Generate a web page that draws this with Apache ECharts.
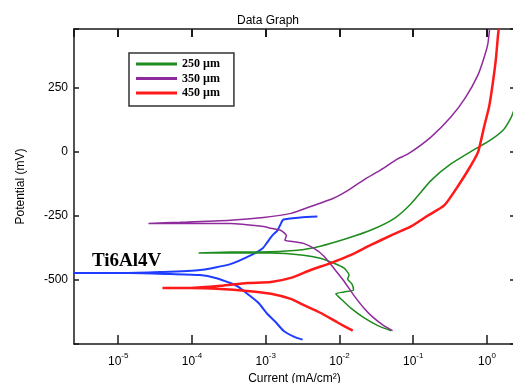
<!DOCTYPE html>
<html>
<head>
<meta charset="utf-8">
<script src="https://cdn.jsdelivr.net/npm/echarts@6/dist/echarts.min.js"></script>
<style>
  html, body { margin: 0; padding: 0; background: #fff; }
  #chart { width: 513px; height: 383px; }
</style>
</head>
<body>
<div id="chart"></div>
<script>
// log10 of current (mA/cm2) and potential (mV)
const tiLogI = [-2.50, -2.62, -2.76, -2.87, -2.98, -3.10, -3.25, -3.37, -3.48, -3.68, -3.89, -4.29, -4.84, -5.60, -5.90,
  -5.60, -4.97, -4.43, -3.89, -3.48, -3.17, -3.04, -2.98, -2.91, -2.84, -2.80, -2.76, -2.53, -2.30];
const tiMv = [-733, -721, -698, -663, -632, -589, -554, -527, -512, -492, -481, -477, -473, -473, -473,
  -473, -473, -469, -461, -438, -399, -376, -353, -326, -306, -283, -264, -256, -252];

const g250LogI = [-1.30, -1.48, -1.67, -1.85, -1.98, -2.05, -1.94, -1.81, -1.83, -1.89, -1.87, -1.94, -2.08, -2.26, -2.49, -2.93, -3.48, -3.91,
  -3.48, -3.07, -2.57, -2.26, -1.89, -1.58, -1.26, -1.03, -0.76, -0.49, -0.18, 0.05, 0.23, 0.33, 0.37, 0.46];
const g250Mv = [-698, -678, -647, -609, -574, -554, -547, -539, -516, -496, -481, -453, -434, -415, -403, -395, -395, -395,
  -391, -391, -384, -368, -337, -306, -260, -202, -112, -47, 8, 47, 89, 136, 167, 225];

const g350LogI = [-1.28, -1.40, -1.54, -1.67, -1.81, -1.94, -2.08, -2.21, -2.35, -2.49, -2.66, -2.74, -2.72, -2.80, -2.93, -3.03, -3.48, -4.16, -4.59,
  -4.16, -3.48, -3.03, -2.66, -2.39, -2.09, -1.89, -1.67, -1.44, -1.21, -1.07, -0.76, -0.49, -0.29, -0.12, -0.04, 0.01, 0.03, 0.04];
const g350Mv = [-698, -678, -647, -609, -558, -504, -453, -407, -376, -357, -349, -345, -326, -306, -298, -291, -279, -279, -279,
  -275, -267, -256, -240, -213, -182, -151, -109, -70, -27, -8, 58, 136, 213, 302, 368, 419, 465, 496];

const g450LogI = [-1.82, -2.02, -2.26, -2.49, -2.66, -2.93, -3.25, -3.61, -4.02, -4.40,
  -4.02, -3.61, -3.25, -2.93, -2.66, -2.39, -2.12, -1.85, -1.58, -1.30, -1.03, -0.80, -0.58, -0.39, -0.22, -0.12, -0.04, 0.03, 0.08, 0.12, 0.15, 0.16];
const g450Mv = [-698, -667, -628, -597, -574, -554, -543, -535, -531, -531,
  -531, -523, -512, -508, -492, -461, -434, -403, -364, -326, -291, -248, -209, -132, -54, 0, 97, 178, 271, 360, 457, 481];

const legendNames = ["250 \u00b5m", "350 \u00b5m", "450 \u00b5m"];
const yTicks = [-500, -250, 0, 250];

function toPoints(logI, mv) {
  return logI.map((l, i) => [Math.pow(10, l), mv[i]]);
}

function makeSeries(name, logI, mv, color, width) {
  return {
    name: name,
    type: "line",
    data: toPoints(logI, mv),
    showSymbol: false,
    symbol: "none",
    smooth: 0.2,
    lineStyle: { color: color, width: width },
    itemStyle: { color: color },
    clip: true,
  };
}

const X_MIN = Math.pow(10, -5.6);
const X_MAX = Math.pow(10, 0.38);
const Y_MIN = -750;
const Y_MAX = 480;

const axisColor = "#1a1a1a";
const font = "'Liberation Sans', Arial, sans-serif";

function expLabel(v) {
  const e = Math.log10(v);
  const r = Math.round(e);
  if (Math.abs(e - r) > 1e-6) return "";
  return "{b|10}{s|" + r + "}";
}

const chart = echarts.init(document.getElementById("chart"), null, { renderer: "canvas" });

chart.setOption({
  animation: false,
  backgroundColor: "#fff",
  title: {
    text: "Data Graph",
    left: 263,
    top: 10,
    textAlign: "center",
    textStyle: { fontFamily: font, fontSize: 12, fontWeight: "normal", color: "#000" },
  },
  legend: {
    data: legendNames,
    orient: "vertical",
    left: 129,
    top: 53,
    padding: [5, 14, 7, 7],
    itemGap: 2.5,
    itemWidth: 41,
    itemHeight: 3,
    icon: "rect",
    borderColor: "#333",
    borderWidth: 1.5,
    backgroundColor: "#fff",
    textStyle: { fontFamily: "'Liberation Serif', 'Times New Roman', serif", fontWeight: "bold", fontSize: 12, color: "#000" },
  },
  grid: { left: 74, top: 29, width: 441, height: 315, show: false, outerBoundsMode: "none", containLabel: false },
  xAxis: [
    {
      type: "log",
      min: X_MIN,
      max: X_MAX,
      name: "Current (mA/cm\u00b2)",
      nameLocation: "middle",
      nameGap: 25,
      nameTextStyle: { fontFamily: font, fontSize: 12, color: "#000" },
      axisLine: { show: true, onZero: false, lineStyle: { color: axisColor, width: 1.5 } },
      axisTick: { show: true, inside: true, length: 9, lineStyle: { color: axisColor, width: 1.5 } },
      minorTick: { show: false },
      splitLine: { show: false },
      axisLabel: {
        margin: 8,
        showMinLabel: false,
        showMaxLabel: false,
        formatter: expLabel,
        rich: {
          b: { fontFamily: font, fontSize: 12, color: "#000", verticalAlign: "bottom", lineHeight: 16 },
          s: { fontFamily: font, fontSize: 8, color: "#000", verticalAlign: "top", lineHeight: 10 },
        },
      },
    },
    {
      type: "log",
      position: "top",
      min: X_MIN,
      max: X_MAX,
      axisLine: { show: true, onZero: false, lineStyle: { color: axisColor, width: 1.5 } },
      axisTick: { show: true, inside: true, length: 8, lineStyle: { color: axisColor, width: 2 } },
      axisLabel: { show: true, inside: true, formatter: () => " " },
      splitLine: { show: false },
    },
  ],
  yAxis: [
    {
      type: "value",
      min: Y_MIN,
      max: Y_MAX,
      interval: 250,
      name: "Potential (mV)",
      nameLocation: "middle",
      nameGap: 47,
      nameTextStyle: { fontFamily: font, fontSize: 12, color: "#000" },
      axisLine: { show: true, onZero: false, lineStyle: { color: axisColor, width: 1.5 } },
      axisTick: { show: true, inside: true, length: 5, lineStyle: { color: axisColor, width: 1.5 } },
      splitLine: { show: false },
      axisLabel: {
        margin: 6,
        fontFamily: font,
        fontSize: 12,
        color: "#000",
        formatter: (v) => (yTicks.includes(v) ? String(v) : ""),
      },
    },
    {
      type: "value",
      position: "right",
      min: Y_MIN,
      max: Y_MAX,
      interval: 250,
      axisLine: { show: true, onZero: false, lineStyle: { color: axisColor, width: 1.5 } },
      axisTick: { show: true, inside: true, length: 5, lineStyle: { color: axisColor, width: 1.5 } },
      axisLabel: { show: true, formatter: () => " " },
      splitLine: { show: false },
    },
  ],
  graphic: [
    {
      type: "text",
      left: 92,
      top: 252,
      style: {
        text: "Ti6Al4V",
        font: "bold 19px 'Liberation Serif', 'Times New Roman', serif",
        fill: "#000",
      },
    },
  ],
  series: [
    makeSeries("Ti6Al4V", tiLogI, tiMv, "#1f3dff", 2),
    makeSeries(legendNames[0], g250LogI, g250Mv, "#1e8c1e", 1.5),
    makeSeries(legendNames[1], g350LogI, g350Mv, "#8f2a9c", 1.5),
    makeSeries(legendNames[2], g450LogI, g450Mv, "#ff1a1a", 2.5),
  ],
});
</script>
</body>
</html>
